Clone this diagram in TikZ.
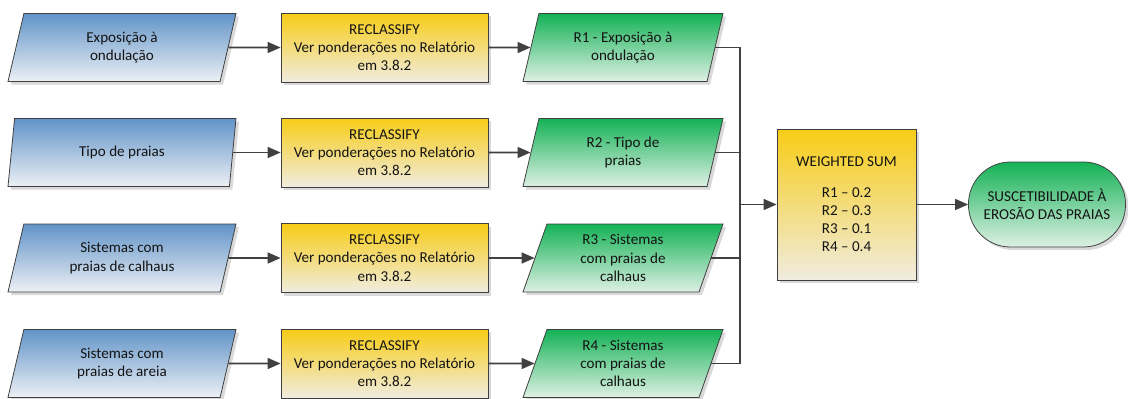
\documentclass[tikz,border=0pt]{standalone}
\usepackage{fontspec}
\setmainfont{Carlito}
\usetikzlibrary{shapes.geometric,shadows,arrows.meta}
\definecolor{bluetop}{RGB}{98,148,200}
\definecolor{bluebot}{RGB}{236,240,245}
\definecolor{yeltop}{RGB}{247,204,22}
\definecolor{yelbot}{RGB}{240,236,224}
\definecolor{grntop}{RGB}{20,178,86}
\definecolor{grnbot}{RGB}{222,240,228}
\definecolor{edge}{RGB}{64,64,64}
\begin{document}
\begin{tikzpicture}[x=1pt,y=-1pt,
  every node/.style={font=\fontsize{15.1}{18.3}\selectfont, align=center, text=black!92},
  base/.style={draw=edge, line width=0.8pt, drop shadow={shadow xshift=3pt,shadow yshift=-3pt,opacity=.3}},
  para/.style={base, trapezium, trapezium left angle=63, trapezium right angle=117, trapezium stretches body, minimum height=68pt, inner sep=0pt},
  inbox/.style={para, top color=bluetop, bottom color=bluebot, minimum width=228pt},
  outbox/.style={para, top color=grntop, bottom color=grnbot, minimum width=200pt},
  reclass/.style={base, rectangle, top color=yeltop, bottom color=yelbot, minimum width=207pt, minimum height=69pt, inner sep=0pt},
  conn/.style={draw=edge, line width=1.6pt},
  arr/.style={conn, -{Triangle[length=13pt,width=11pt]}}
]
\useasboundingbox (0,0) rectangle (1128,399);

\foreach \i/\y/\a/\c in {1/47.5/{Exposição à\\ondulação}/{R1 - Exposição à\\ondulação},
  2/152.5/{Tipo de praias}/{R2 - Tipo de\\praias},
  3/258/{Sistemas com\\praias de calhaus}/{R3 - Sistemas\\com praias de\\calhaus},
  4/363.5/{Sistemas com\\praias de areia}/{R4 - Sistemas\\com praias de\\calhaus}}{
  \node[inbox] (in\i) at (122,\y) {\a};
  \node[reclass] (rc\i) at (384.5,\y) {RECLASSIFY\\Ver ponderações no Relatório\\em 3.8.2};
  \node[outbox] (out\i) at (623,\y) {\c};
  \draw[arr] (in\i.east) -- (rc\i.west);
  \draw[arr] (rc\i.east) -- (out\i.west);
}

\node[base, rectangle, top color=yeltop, bottom color=yelbot, minimum width=139pt, minimum height=151pt, inner sep=0pt] (ws) at (846.5,204.5) {WEIGHTED SUM\\[12pt]R1 -- 0.2\\R2 -- 0.3\\R3 -- 0.1\\R4 -- 0.4};
\node[base, rectangle, rounded corners=42pt, top color=grntop, bottom color=grnbot, minimum width=157pt, minimum height=85pt, inner sep=0pt] (res) at (1047,204.5) {SUSCETIBILIDADE À\\EROSÃO DAS PRAIAS};

\coordinate (bus) at (740,204.5);
\draw[conn] (out1.east) -| (bus);
\draw[conn] (out4.east) -| (bus);
\draw[conn] (out2.east) -- (out2.east -| bus);
\draw[conn] (out3.east) -- (out3.east -| bus);
\draw[arr] (bus) -- (ws.west);
\draw[arr] (ws.east) -- (res.west);
\end{tikzpicture}
\end{document}
